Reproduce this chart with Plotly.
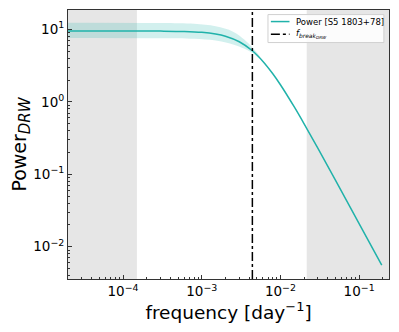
import plotly.graph_objects as go

# model power spectrum
freq = [2.0e-5, 1.0e-4, 3.0e-4, 6.0e-4, 1.0e-3, 1.5e-3, 2.0e-3, 3.0e-3, 4.4e-3,
        6.0e-3, 8.0e-3, 1.0e-2, 1.5e-2, 2.0e-2, 3.0e-2, 5.0e-2, 0.1, 0.194]
power = [9.50, 9.50, 9.46, 9.35, 9.09, 8.62, 8.04, 6.75, 5.06,
         3.61, 2.44, 1.72, 0.849, 0.497, 0.228, 0.0832, 0.0209, 0.00557]

# uncertainty band
band_freq = [2.0e-5, 3.0e-4, 8.0e-4, 1.5e-3, 2.5e-3, 3.5e-3, 4.4e-3, 5.5e-3]
band_hi = [12.3, 12.2, 11.9, 11.0, 9.3, 7.2, 5.6, 4.15]
band_lo = [7.6, 7.55, 7.4, 7.0, 6.2, 5.4, 4.75, 3.9]

f_break = 4.4e-3
low_cut = 1.5e-4
high_cut = 0.0216
x_range = [-4.70, -0.62]
y_range = [-2.445, 1.267]

x_ticks = [1e-4, 1e-3, 1e-2, 1e-1]
x_labels = ['10<sup>−4</sup>', '10<sup>−3</sup>', '10<sup>−2</sup>', '10<sup>−1</sup>']
y_ticks = [1e-2, 1e-1, 1, 10]
y_labels = ['10<sup>−2</sup>', '10<sup>−1</sup>', '10<sup>0</sup>', '10<sup>1</sup>']

legend_labels = ['Power [S5 1803+78]', '<i>f</i><sub><i>break</i><sub><i>DRW</i></sub></sub>']

teal = '#20B2AA'
font = 'DejaVu Sans'

fig = go.Figure()

# bande
fig.add_trace(go.Scatter(
    x=band_freq + band_freq[::-1],
    y=band_hi + band_lo[::-1],
    fill='toself', fillcolor='rgba(32,178,170,0.2)',
    line=dict(width=0, shape='spline'), mode='lines',
    showlegend=False, hoverinfo='skip'
))

fig.add_trace(go.Scatter(
    x=freq, y=power, mode='lines',
    line=dict(color=teal, width=1.5, shape='spline'),
    name=legend_labels[0], showlegend=False
))

# zones grises
for x0, x1 in [(10 ** x_range[0], low_cut), (high_cut, 10 ** x_range[1])]:
    fig.add_shape(type='rect', xref='x', yref='paper', x0=x0, x1=x1, y0=0, y1=1,
                  fillcolor='rgba(128,128,128,0.2)', line_width=0, layer='below')

fig.add_shape(type='line', xref='x', yref='paper', x0=f_break, x1=f_break, y0=0, y1=1,
              line=dict(color='black', width=1.5, dash='dashdot'))

# légende dessinée à la main (style matplotlib, plus compacte)
fig.add_shape(type='rect', xref='paper', yref='paper', x0=0.623, x1=0.984, y0=0.879, y1=0.983,
              fillcolor='rgba(255,255,255,0.85)', line=dict(color='#d0d0d0', width=1))
leg_styles = [dict(color=teal, width=1.5), dict(color='black', width=1.5, dash='dashdot')]
for i, (lab, st) in enumerate(zip(legend_labels, leg_styles)):
    yy = 0.957 - i * 0.047
    fig.add_shape(type='line', xref='paper', yref='paper', x0=0.632, x1=0.690, y0=yy, y1=yy, line=st)
    fig.add_annotation(xref='paper', yref='paper', x=0.704, y=yy, text=lab, showarrow=False,
                       xanchor='left', yanchor='middle',
                       font=dict(size=8.5, color='black', family=font))

axis_common = dict(
    type='log', tickmode='array',
    ticks='inside', ticklen=4, tickcolor='#333',
    minor=dict(ticks='inside', ticklen=2, tickcolor='#333', dtick='D1', showgrid=False),
    showline=True, linecolor='#333', linewidth=1, mirror=True,
    showgrid=False, zeroline=False, automargin=False,
    tickfont=dict(size=13.5, color='black', family=font),
)

fig.update_xaxes(range=x_range, tickvals=x_ticks, ticktext=x_labels,
                 title=dict(text='frequency [day<sup>−1</sup>]',
                            font=dict(size=18.5, color='black', family=font), standoff=2),
                 **axis_common)
fig.update_yaxes(range=y_range, tickvals=y_ticks, ticktext=y_labels,
                 title=dict(text='Power<sub><span style="font-size:15px"><i>DRW</i></span></sub>',
                            font=dict(size=19, color='black', family=font), standoff=4),
                 **axis_common)

# la page ajoute 8px de marge autour du graphe
fig.update_layout(
    width=391, height=324,
    margin=dict(l=60, r=10, t=2, b=53),
    paper_bgcolor='white', plot_bgcolor='white',
    showlegend=False,
)

fig.write_html("out.html")
